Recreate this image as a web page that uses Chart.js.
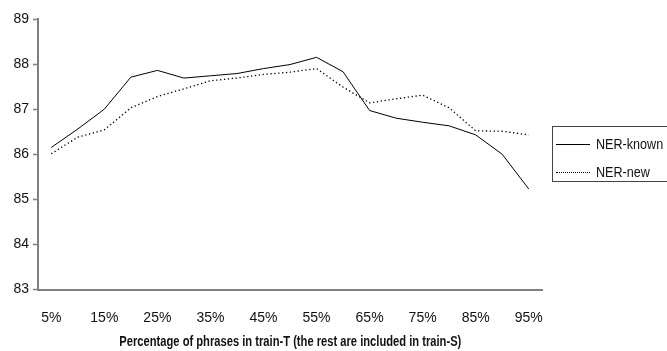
<!DOCTYPE html>
<html>
<head>
<meta charset="utf-8">
<script src="https://cdn.jsdelivr.net/npm/chart.js@4/dist/chart.umd.min.js"></script>
<style>
html,body{margin:0;padding:0;background:#fff;}
#wrap{position:relative;width:667px;height:351px;overflow:hidden;}
#legend{position:absolute;left:552px;top:126px;width:130px;height:56px;border:1.5px solid #444;box-sizing:border-box;font-family:"Liberation Sans",Arial,sans-serif;font-size:14px;color:#111;}
.row{position:absolute;left:3px;height:18px;display:flex;align-items:center;}
.row .s{width:34px;height:0;margin-right:6px;}
.row .t{display:inline-block;transform:scaleX(0.9);transform-origin:left center;white-space:nowrap;}
#xtitle{position:absolute;left:0;top:333px;width:580px;text-align:center;font-family:"Liberation Sans",Arial,sans-serif;font-size:14px;font-weight:bold;color:#111;line-height:16px;white-space:nowrap;}
#xtitle span{display:inline-block;transform-origin:center center;}
</style>
</head>
<body>
<div id="wrap">
<canvas id="c" width="667" height="351"></canvas>
<div id="legend"></div>
<div id="xtitle"><span id="xt"></span></div>
</div>
<script>
const categories = ['5%','10%','15%','20%','25%','30%','35%','40%','45%','50%','55%','60%','65%','70%','75%','80%','85%','90%','95%'];
const nerKnown = [86.15,86.56,87.00,87.71,87.86,87.69,87.74,87.79,87.90,87.99,88.15,87.83,86.97,86.80,86.71,86.63,86.43,86.00,85.23];
const nerNew   = [86.01,86.38,86.54,87.03,87.28,87.45,87.63,87.69,87.77,87.82,87.90,87.49,87.14,87.23,87.31,87.03,86.52,86.51,86.43];
const yTicks = [83,84,85,86,87,88,89];
const xTitle = 'Percentage of phrases in train-T (the rest are included in train-S)';

const FONT = '"Liberation Sans", Arial, sans-serif';
const ctx = document.getElementById('c');
const chart = new Chart(ctx, {
  type: 'line',
  data: {
    labels: categories,
    datasets: [
      {label:'NER-known', data:nerKnown, borderColor:'#000', borderWidth:1, pointRadius:0, tension:0, fill:false},
      {label:'NER-new', data:nerNew, borderColor:'#000', borderWidth:1.3, borderDash:[1.3,2.6], pointRadius:0, tension:0, fill:false}
    ]
  },
  options: {
    responsive:false,
    animation:false,
    events:[],
    layout:{padding:{top:19,right:125,left:0,bottom:0}},
    plugins:{legend:{display:false},tooltip:{enabled:false}},
    scales:{
      x:{
        offset:true,
        grid:{display:true,drawOnChartArea:false,drawTicks:false,color:'#808080'},
        border:{display:true,color:'#808080',width:2},
        ticks:{autoSkip:false,maxRotation:0,padding:20,color:'#111',font:{family:FONT,size:14},
          callback:function(v,i){return i%2===0?categories[i]:'';}},
        title:{display:false,text:xTitle},
        afterFit:function(s){s.height=351-289.5;}
      },
      y:{
        min:83,max:89,
        afterBuildTicks:function(s){s.ticks=yTicks.map(v=>({value:v}));},
        grid:{display:true,drawOnChartArea:false,drawTicks:true,tickLength:5,color:'#808080',tickWidth:1.5},
        border:{display:true,color:'#808080',width:2},
        ticks:{padding:4,color:'#111',font:{family:FONT,size:14}},
        afterFit:function(s){s.width=38;}
      }
    }
  }
});

// axis title as text, condensed to match reference width
const xt = document.getElementById('xt');
xt.textContent = chart.options.scales.x.title.text;
const wNat = xt.getBoundingClientRect().width;
xt.style.transform = 'scaleX(' + (342 / wNat) + ')';
const area = chart.chartArea;
document.getElementById('xtitle').style.width = (2 * (area.left + area.right) / 2) + 'px';

const lg = document.getElementById('legend');
chart.data.datasets.forEach(function(ds,i){
  const r = document.createElement('div');
  r.className='row';
  r.style.top = (i===0?8:36)+'px';
  const s = document.createElement('span');
  s.className='s';
  s.style.borderTop = ds.borderDash ? '1.3px dotted #000' : '1px solid #000';
  const t = document.createElement('span');
  t.className='t';
  t.textContent = ds.label;
  r.appendChild(s); r.appendChild(t);
  lg.appendChild(r);
});
</script>
</body>
</html>
